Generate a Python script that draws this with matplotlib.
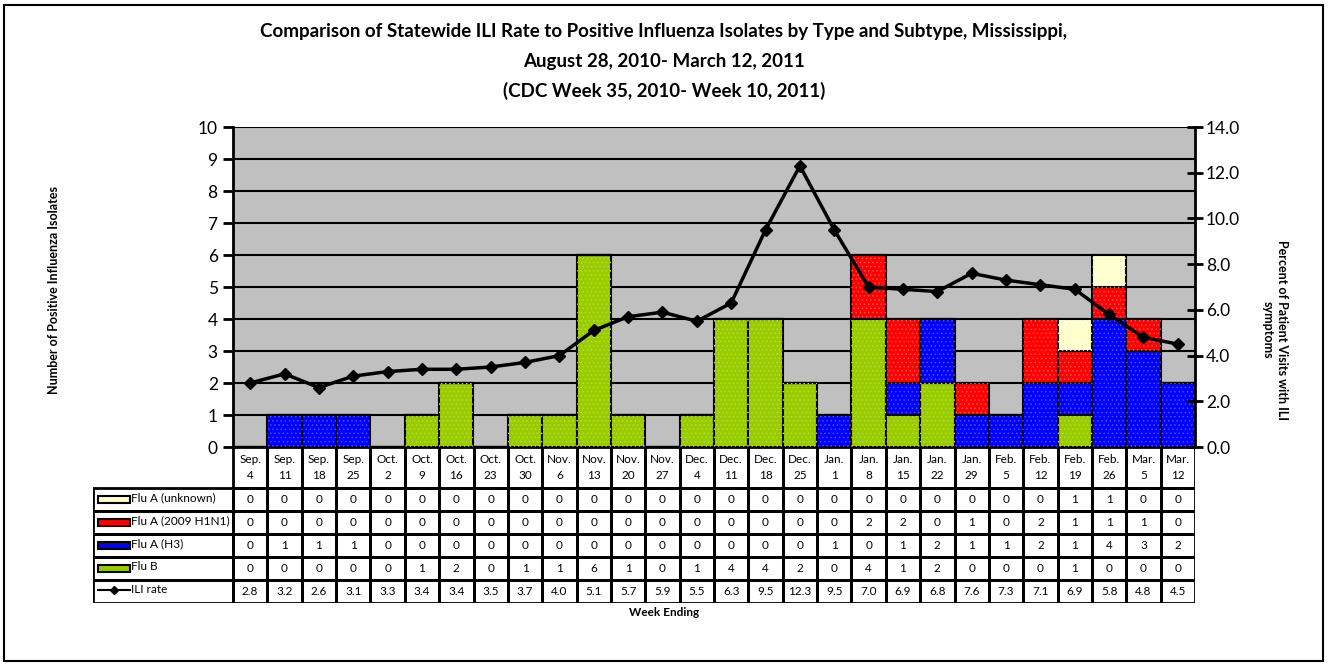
import matplotlib
matplotlib.use("Agg")
import matplotlib.pyplot as plt
from matplotlib.patches import Rectangle

plt.rcParams['font.family'] = ['Lato', 'DejaVu Sans']

weeks = ["Sep.\n4", "Sep.\n11", "Sep.\n18", "Sep.\n25", "Oct.\n2", "Oct.\n9", "Oct.\n16",
         "Oct.\n23", "Oct.\n30", "Nov.\n6", "Nov.\n13", "Nov.\n20", "Nov.\n27", "Dec.\n4",
         "Dec.\n11", "Dec.\n18", "Dec.\n25", "Jan.\n1", "Jan.\n8", "Jan.\n15", "Jan.\n22",
         "Jan.\n29", "Feb.\n5", "Feb.\n12", "Feb.\n19", "Feb.\n26", "Mar.\n5", "Mar.\n12"]
flu_a_unknown = [0, 0, 0, 0, 0, 0, 0, 0, 0, 0, 0, 0, 0, 0, 0, 0, 0, 0, 0, 0, 0, 0, 0, 0, 1, 1, 0, 0]
flu_a_h1n1 = [0, 0, 0, 0, 0, 0, 0, 0, 0, 0, 0, 0, 0, 0, 0, 0, 0, 0, 2, 2, 0, 1, 0, 2, 1, 1, 1, 0]
flu_a_h3 = [0, 1, 1, 1, 0, 0, 0, 0, 0, 0, 0, 0, 0, 0, 0, 0, 0, 1, 0, 1, 2, 1, 1, 2, 1, 4, 3, 2]
flu_b = [0, 0, 0, 0, 0, 1, 2, 0, 1, 1, 6, 1, 0, 1, 4, 4, 2, 0, 4, 1, 2, 0, 0, 0, 1, 0, 0, 0]
ili_rate = [2.8, 3.2, 2.6, 3.1, 3.3, 3.4, 3.4, 3.5, 3.7, 4.0, 5.1, 5.7, 5.9, 5.5, 6.3, 9.5,
            12.3, 9.5, 7.0, 6.9, 6.8, 7.6, 7.3, 7.1, 6.9, 5.8, 4.8, 4.5]

fig = plt.figure(figsize=(13.28, 6.65), dpi=100)
W, H = 1328, 665

# outer frame
fig.patches.append(Rectangle((4 / W, 4 / H), 1 - 9 / W, 1 - 9 / H, transform=fig.transFigure,
                             fill=False, edgecolor='black', linewidth=1.5))

ax_left, ax_right, ax_top, ax_bot = 233, 1195, 127, 447
ax = fig.add_axes([ax_left / W, 1 - ax_bot / H, (ax_right - ax_left) / W, (ax_bot - ax_top) / H])
ax.set_facecolor('#C0C0C0')
n = len(weeks)
x = list(range(n))

series = [("Flu B", flu_b, '#99CC00', '#B8DD33'),
          ("Flu A (H3)", flu_a_h3, '#0000FF', '#4D4DFF'),
          ("Flu A (2009 H1N1)", flu_a_h1n1, '#FF0000', '#FF5050'),
          ("Flu A (unknown)", flu_a_unknown, '#FFFFCC', '#FFFFE6')]
plt.rcParams['hatch.linewidth'] = 0.6
bottom = [0] * n
for name, vals, col, hcol in series:
    ax.bar(x, vals, 1.0, bottom=bottom, color=col, edgecolor='black', linewidth=1.5, zorder=2)
    ax.bar(x, vals, 1.0, bottom=bottom, facecolor='none', edgecolor=hcol, hatch='....',
           linewidth=0, zorder=2.1)
    bottom = [b + v for b, v in zip(bottom, vals)]

ax.set_xlim(-0.5, n - 0.5)
ax.set_ylim(0, 10)
ax.set_yticks(range(0, 11))
ax.yaxis.grid(True, color='black', linewidth=1.5, zorder=1)
ax.set_axisbelow(True)
ax.set_xticks([])
for s in ['top', 'right', 'bottom']:
    ax.spines[s].set_visible(False)
ax.spines['left'].set_linewidth(2)
ax.tick_params(axis='y', direction='out', length=7, width=2, labelsize=12.5, pad=4)

ax2 = ax.twinx()
ax2.plot(x, ili_rate, color='black', linewidth=2.5, marker='D', markersize=6, zorder=5)
ax2.set_ylim(0, 14)
ax2.set_yticks([0, 2, 4, 6, 8, 10, 12, 14])
ax2.set_yticklabels(["%.1f" % v for v in [0, 2, 4, 6, 8, 10, 12, 14]])
for s in ['top', 'left', 'bottom']:
    ax2.spines[s].set_visible(False)
ax2.spines['right'].set_linewidth(2)
ax2.tick_params(axis='y', direction='inout', length=12, width=2, labelsize=12.5, pad=2)

# data table below the plot
col_w = (ax_right - ax_left) / n
lab_w = (ax_left - 93) / col_w
tab_top, tab_bot = 447, 603
tax = fig.add_axes([93 / W, 1 - tab_bot / H, (ax_right - 93) / W, (tab_bot - tab_top) / H])
tax.set_xlim(-0.5 - lab_w, n - 0.5)
tax.set_ylim(tab_bot - tab_top, 0)
tax.axis('off')
head_h = 41
row_h = (tab_bot - tab_top - head_h) / 5
lw = 2
fs = 8.5
for i, wk in enumerate(weeks):
    tax.add_patch(Rectangle((i - 0.5, 0), 1, head_h, fill=False, edgecolor='black', linewidth=lw))
    tax.text(i, head_h / 2, wk, ha='center', va='center', fontsize=fs, linespacing=1.45)

rows = [("Flu A (unknown)", flu_a_unknown, '#FFFFCC'),
        ("Flu A (2009 H1N1)", flu_a_h1n1, '#FF0000'),
        ("Flu A (H3)", flu_a_h3, '#0000FF'),
        ("Flu B", flu_b, '#99CC00'),
        ("ILI rate", ili_rate, None)]
for r, (name, vals, col) in enumerate(rows):
    y0 = head_h + r * row_h
    tax.add_patch(Rectangle((-0.5 - lab_w, y0), lab_w, row_h, fill=False, edgecolor='black', linewidth=lw))
    kx = -0.5 - lab_w + 0.14
    if col is not None:
        tax.add_patch(Rectangle((kx, y0 + row_h * 0.33), 0.95, row_h * 0.34, facecolor=col,
                                edgecolor='black', linewidth=1.5))
    else:
        tax.plot([kx, kx + 0.95], [y0 + row_h * 0.45] * 2, color='black', linewidth=1.5)
        tax.plot([kx + 0.475], [y0 + row_h * 0.45], marker='D', color='black', markersize=4.5)
    tax.text(kx + 0.97, y0 + row_h * 0.42, name, ha='left', va='center', fontsize=fs)
    for i, v in enumerate(vals):
        tax.add_patch(Rectangle((i - 0.5, y0), 1, row_h, fill=False, edgecolor='black', linewidth=lw))
        txt = "%.1f" % v if col is None else str(v)
        tax.text(i, y0 + row_h / 2, txt, ha='center', va='center', fontsize=fs)

title_fs = 13.5
fig.text(0.5, 1 - 32 / H, "Comparison of Statewide ILI Rate to Positive Influenza Isolates by Type and Subtype, Mississippi,",
         ha='center', va='center', fontsize=title_fs, fontweight='bold')
fig.text(0.5, 1 - 62 / H, "August 28, 2010- March 12, 2011", ha='center', va='center',
         fontsize=title_fs, fontweight='bold')
fig.text(0.5, 1 - 91 / H, "(CDC Week 35, 2010- Week 10, 2011)", ha='center', va='center',
         fontsize=title_fs, fontweight='bold')

fig.text(54 / W, 1 - 290 / H, "Number of Positive Influenza Isolates", rotation=90,
         ha='center', va='center', fontsize=9, fontweight='bold')
fig.text(1275 / W, 1 - 330 / H, "Percent of Patient Visits with ILI\nsymptoms", rotation=270,
         ha='center', va='center', fontsize=9, fontweight='bold')
fig.text(664 / W, 1 - 612 / H, "Week Ending", ha='center', va='center', fontsize=8.5, fontweight='bold')

fig.savefig("out.png", dpi=100)
